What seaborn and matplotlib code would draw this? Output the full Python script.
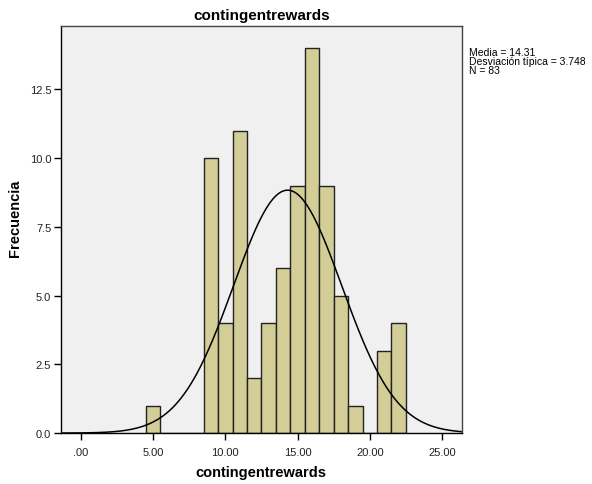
import numpy as np
import pandas as pd
import matplotlib
matplotlib.use("Agg")
import matplotlib.pyplot as plt
from matplotlib.ticker import FixedLocator, FuncFormatter
import seaborn as sns

# Frequency table of contingentrewards scores
scores = [5, 9, 10, 11, 12, 13, 14, 15, 16, 17, 18, 19, 21, 22]
counts = [1, 10, 4, 11, 2, 4, 6, 9, 14, 9, 5, 1, 3, 4]

x_ticks = [0, 5, 10, 15, 20, 25]
y_ticks = [0.0, 2.5, 5.0, 7.5, 10.0, 12.5]

df = pd.DataFrame({"contingentrewards": scores, "n": counts})

sns.set_theme(style="white")
plt.rcParams["font.family"] = ["Liberation Sans", "DejaVu Sans"]
plt.rcParams["text.color"] = "black"
plt.rcParams["axes.labelcolor"] = "black"

fig = plt.figure(figsize=(5.92, 4.85), dpi=100)
ax = fig.add_axes([0.103, 0.105, 0.677, 0.839])
ax.set_facecolor("#F0F0F0")

sns.histplot(data=df, x="contingentrewards", weights="n", discrete=True,
             color="#D3CE97", edgecolor="#222222", linewidth=1.0,
             alpha=1.0, ax=ax)

# Fitted normal curve scaled to counts
vals = np.repeat(scores, counts)
n = len(vals)
mean = vals.mean()
sd = vals.std(ddof=1)
xmin, xmax = -1.38, 26.37
xs = np.linspace(xmin, xmax, 400)
ys = n * 1.0 * np.exp(-0.5 * ((xs - mean) / sd) ** 2) / (sd * np.sqrt(2 * np.pi))
ax.plot(xs, ys, color="black", lw=1.1)

ax.set_xlim(xmin, xmax)
ax.set_ylim(0, 14.8)
ax.xaxis.set_major_locator(FixedLocator(x_ticks))
ax.yaxis.set_major_locator(FixedLocator(y_ticks))
ax.xaxis.set_major_formatter(FuncFormatter(
    lambda v, p: f"{v:.2f}".lstrip("0") if v == 0 else f"{v:.2f}"))
ax.yaxis.set_major_formatter(FuncFormatter(lambda v, p: f"{v:.1f}"))
ax.tick_params(axis="both", which="major", direction="out", length=5,
               width=1, color="black", labelsize=8, labelcolor="#222222",
               bottom=True, left=True)
ax.tick_params(axis="x", pad=5)
ax.tick_params(axis="y", pad=2)
for s in ax.spines.values():
    s.set_color("#444444")
    s.set_linewidth(1.0)
ax.spines["left"].set_color("black")
ax.spines["bottom"].set_color("black")

ax.set_xlabel("contingentrewards", fontsize=10.5, fontweight="bold")
ax.xaxis.set_label_coords(0.5, -0.078)
ax.set_ylabel("Frecuencia", fontsize=10.5, fontweight="bold")
ax.yaxis.set_label_coords(-0.097, 0.53)
ax.set_title("contingentrewards", fontsize=11, fontweight="bold", pad=5)

fig.text(0.792, 0.902,
         f"Media = {mean:.2f}\nDesviación típica = {sd:.3f}\nN = {n}",
         fontsize=7.5, va="top", ha="left", linespacing=0.9, color="black")

fig.savefig("out.png", dpi=100, facecolor="white")
